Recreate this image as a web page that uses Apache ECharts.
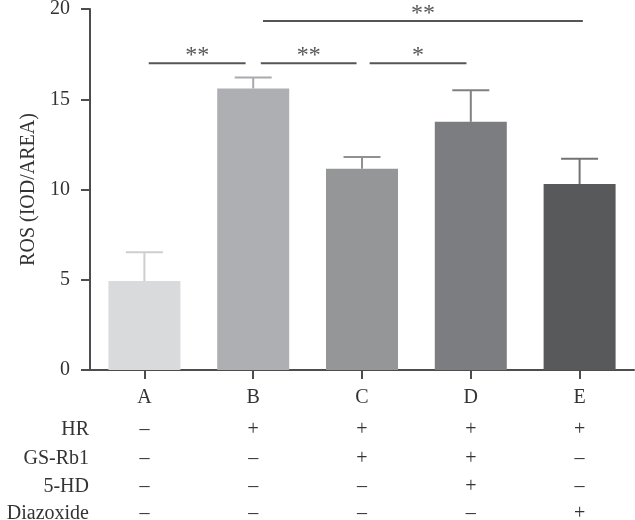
<!DOCTYPE html>
<html>
<head>
<meta charset="utf-8">
<script src="https://cdn.jsdelivr.net/npm/echarts@6/dist/echarts.min.js"></script>
<style>html,body{margin:0;padding:0;background:#fff}#c{width:635px;height:520px}</style>
</head>
<body>
<div id="c"></div>
<script>
// ---- data ----
const categories = ['A', 'B', 'C', 'D', 'E'];
const rosMean = [4.93, 15.6, 11.15, 13.75, 10.3];
const rosSD = [1.6, 0.6, 0.65, 1.75, 1.4];
const yMin = 0, yMax = 20, yStep = 5;
const yName = 'ROS (IOD/AREA)';
const rowNames = ['HR', 'GS-Rb1', '5-HD', 'Diazoxide'];
const rowHR = ['–', '+', '+', '+', '+'];
const rowGS = ['–', '–', '+', '+', '–'];
const rowHD = ['–', '–', '–', '+', '–'];
const rowDZ = ['–', '–', '–', '–', '+'];
// significance brackets (in category-index units and y units)
const sigFrom = [0.04, 1.07, 2.07, 1.09];
const sigTo = [0.93, 1.95, 2.96, 4.03];
const sigY = [17.0, 17.0, 17.0, 19.33];
const sigText = ['**', '**', '*', '**'];

// ---- styles ----
const barColors = ['#d9dadc', '#aeafb2', '#959698', '#7c7d80', '#58595b'];
const errColors = ['#cdcecf', '#a9aaad', '#909193', '#7f8082', '#727375'];
const FONT = '"Liberation Serif", "DejaVu Serif", serif';
const textColor = '#333333';
const axisColor = '#4d4d4d';
const rowRows = [rowHR, rowGS, rowHD, rowDZ];
const rowOffsets = [60, 89, 117, 144];

const chart = echarts.init(document.getElementById('c'), null, {renderer: 'canvas'});

const xAxes = [
  {
    type: 'category', data: categories, gridIndex: 0, position: 'bottom',
    axisLine: {show: true, onZero: false, lineStyle: {color: axisColor, width: 2}},
    axisTick: {show: true, alignWithLabel: true, length: 9, lineStyle: {color: axisColor, width: 2}},
    axisLabel: {fontFamily: FONT, fontSize: 20, color: textColor, margin: 18},
    splitLine: {show: false}
  },
  {
    type: 'value', min: -0.5, max: 4.5, gridIndex: 0, show: false
  }
];
rowRows.forEach((arr, r) => {
  xAxes.push({
    type: 'category', data: categories, gridIndex: 0, position: 'bottom',
    offset: rowOffsets[r],
    name: rowNames[r], nameLocation: 'start', nameGap: 1,
    nameTextStyle: {fontFamily: FONT, fontSize: 20, color: textColor, verticalAlign: 'middle'},
    axisLine: {show: false, onZero: false}, axisTick: {show: false}, splitLine: {show: false},
    axisLabel: {
      fontFamily: FONT, fontSize: 20, color: textColor, margin: 0, verticalAlign: 'middle',
      formatter: (v, i) => arr[i]
    }
  });
});

const option = {
  animation: false,
  backgroundColor: '#ffffff',
  grid: {left: 90, right: 1, top: 9, bottom: 150, containLabel: false, outerBoundsMode: 'none'},
  xAxis: xAxes,
  yAxis: {
    type: 'value', min: yMin, max: yMax, interval: yStep,
    name: yName, nameLocation: 'middle', nameGap: 46,
    nameTextStyle: {fontFamily: FONT, fontSize: 20, color: textColor},
    axisLine: {show: true, onZero: false, lineStyle: {color: axisColor, width: 2}},
    axisTick: {show: true, length: 9, lineStyle: {color: axisColor, width: 2}},
    axisLabel: {fontFamily: FONT, fontSize: 20, color: textColor, margin: 20},
    splitLine: {show: false}
  },
  series: [
    {
      type: 'custom', xAxisIndex: 0, yAxisIndex: 0, z: 1,
      data: categories.map((c, i) => [i, rosMean[i], rosMean[i] + rosSD[i]]),
      encode: {x: 0, y: [1, 2]},
      renderItem: (params, api) => {
        const i = api.value(0);
        const pTop = api.coord([i, api.value(2)]);
        const pMean = api.coord([i, api.value(1)]);
        const half = api.size([1, 0])[0] * 0.17;
        const col = errColors[params.dataIndex];
        return {
          type: 'group',
          children: [
            {type: 'line', shape: {x1: pTop[0], y1: pTop[1], x2: pMean[0], y2: pMean[1]}, style: {stroke: col, lineWidth: 2}},
            {type: 'line', shape: {x1: pTop[0] - half, y1: pTop[1], x2: pTop[0] + half, y2: pTop[1]}, style: {stroke: col, lineWidth: 2}}
          ]
        };
      }
    },
    {
      type: 'bar', xAxisIndex: 0, yAxisIndex: 0, z: 2,
      barWidth: 72,
      data: rosMean.map((v, i) => ({value: v, itemStyle: {color: barColors[i]}}))
    },
    {
      type: 'custom', xAxisIndex: 1, yAxisIndex: 0, z: 3, clip: false,
      data: sigFrom.map((f, i) => [f, sigTo[i], sigY[i]]),
      encode: {x: [0, 1], y: 2},
      renderItem: (params, api) => {
        const p1 = api.coord([api.value(0), api.value(2)]);
        const p2 = api.coord([api.value(1), api.value(2)]);
        const label = sigText[params.dataIndex];
        return {
          type: 'group',
          children: [
            {type: 'line', shape: {x1: p1[0], y1: p1[1], x2: p2[0], y2: p1[1]}, style: {stroke: '#555555', lineWidth: 2}},
            {type: 'text', x: (p1[0] + p2[0]) / 2, y: p1[1] - 7,
             style: {text: label, fill: '#555555', font: '24px ' + FONT, align: 'center', verticalAlign: 'middle'}}
          ]
        };
      }
    }
  ]
};
chart.setOption(option);
</script>
</body>
</html>
